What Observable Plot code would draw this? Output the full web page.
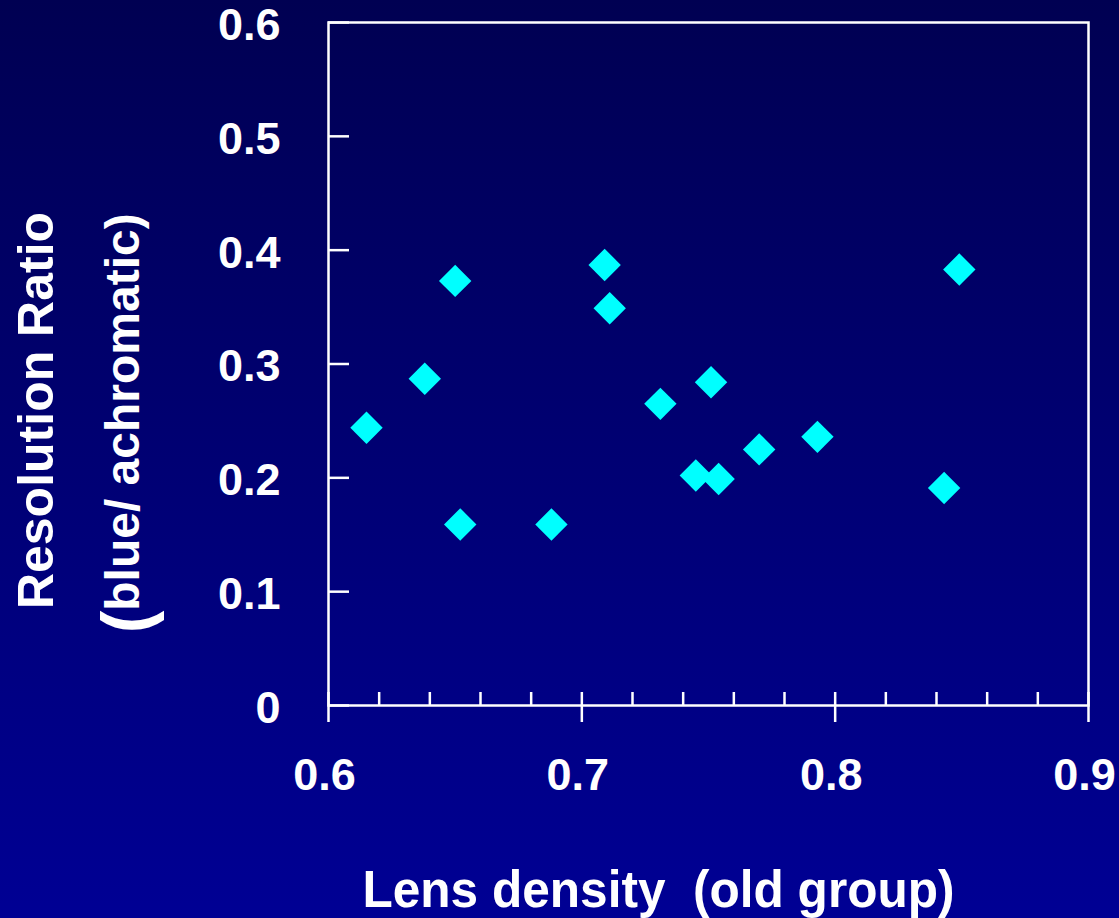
<!DOCTYPE html>
<html>
<head>
<meta charset="utf-8">
<script src="https://cdn.jsdelivr.net/npm/d3@7"></script>
<script src="https://cdn.jsdelivr.net/npm/@observablehq/plot@0.6"></script>
<style>
  html, body { margin: 0; padding: 0; width: 1119px; height: 918px; overflow: hidden;
    background: linear-gradient(to bottom, #000052, #000094); }
  svg text { white-space: pre; }
</style>
</head>
<body>
<div id="chart"></div>
<script>
// Lens density (old group) vs Resolution ratio (blue/achromatic)
const lensDensity = [0.615, 0.638, 0.650, 0.652, 0.688, 0.709, 0.711, 0.731, 0.745, 0.751, 0.754, 0.770, 0.793, 0.843, 0.849];
const resolutionRatio = [0.244, 0.287, 0.373, 0.159, 0.159, 0.387, 0.349, 0.265, 0.202, 0.284, 0.199, 0.225, 0.236, 0.191, 0.383];

const xMajorTicks = [0.6, 0.7, 0.8, 0.9];
const xMajorLabels = ["0.6", "0.7", "0.8", "0.9"];
const xMinorTicks = [0.62, 0.64, 0.66, 0.68, 0.72, 0.74, 0.76, 0.78, 0.82, 0.84, 0.86, 0.88];
const yTicks = [0, 0.1, 0.2, 0.3, 0.4, 0.5, 0.6];
const yLabels = ["0", "0.1", "0.2", "0.3", "0.4", "0.5", "0.6"];

const xTitle = "Lens density  (old group)";
const yTitle1 = "Resolution Ratio";
const yTitle2 = "blue/ achromatic)";
const yTitle2Paren = "(";

const points = lensDensity.map((x, i) => ({x, y: resolutionRatio[i]}));

const W = 1119, H = 918;
const axisStroke = {stroke: "white", strokeWidth: 2.5};

const chart = Plot.plot({
  width: W,
  height: H,
  marginLeft: 328,
  marginRight: 31,
  marginTop: 22,
  marginBottom: 213,
  x: {domain: [0.6, 0.9], label: null},
  y: {domain: [0, 0.6], label: null},
  style: {
    background: "transparent",
    color: "white",
    fontFamily: "'Liberation Sans', Arial, Helvetica, sans-serif",
    fontWeight: "bold",
    overflow: "visible"
  },
  marks: [
    Plot.frame({stroke: "white", strokeWidth: 2.5}),
    // x major ticks (extend below axis)
    Plot.axisX({ticks: xMajorTicks, tickSize: 17, tickFormat: () => "", label: null, ...axisStroke}),
    // x inward ticks
    Plot.axisX({ticks: xMinorTicks.concat(xMajorTicks), tickSize: -13, tickFormat: () => "", label: null, ...axisStroke}),
    // x labels
    Plot.axisX({ticks: xMajorTicks, tickSize: 0, tickPadding: 53, tickFormat: (d, i) => xMajorLabels[i],
      fontSize: 45, dx: -4, label: null}),
    // y inward ticks
    Plot.axisY({ticks: yTicks, tickSize: -21, tickFormat: () => "", label: null, ...axisStroke}),
    // y labels
    Plot.axisY({ticks: yTicks, tickSize: 0, tickPadding: 48, tickFormat: (d, i) => yLabels[i],
      fontSize: 45, dy: 3, label: null}),
    // data
    Plot.dot(points, {x: "x", y: "y", symbol: "diamond2", r: 14.6, fill: "#00ffff", stroke: "none"}),
    // titles
    Plot.text([xTitle], {frameAnchor: "bottom", text: d => d, fontSize: 52, fill: "white",
      dx: -50, dy: 185, lineAnchor: "middle", textAnchor: "middle"}),
    Plot.text([yTitle1], {frameAnchor: "left", text: d => d, fontSize: 50, fill: "white",
      rotate: -90, dx: -292, dy: 46.5, lineAnchor: "middle", textAnchor: "middle"}),
    Plot.text([yTitle2], {frameAnchor: "left", text: d => d, fontSize: 48, fill: "white",
      rotate: -90, dx: -205, dy: 48, lineAnchor: "middle", textAnchor: "middle"}),
    Plot.text([yTitle2Paren], {frameAnchor: "left", text: d => d, fontSize: 68, fill: "white",
      rotate: -90, dx: -200, dy: 258, lineAnchor: "middle", textAnchor: "middle"})
  ]
});

chart.style.background = "linear-gradient(to bottom, #000052, #000094)";
chart.querySelectorAll("text").forEach(t => {
  if (t.textContent === xTitle) {
    t.setAttribute("textLength", 592);
    t.setAttribute("lengthAdjust", "spacingAndGlyphs");
  }
});
document.getElementById("chart").appendChild(chart);
</script>
</body>
</html>
